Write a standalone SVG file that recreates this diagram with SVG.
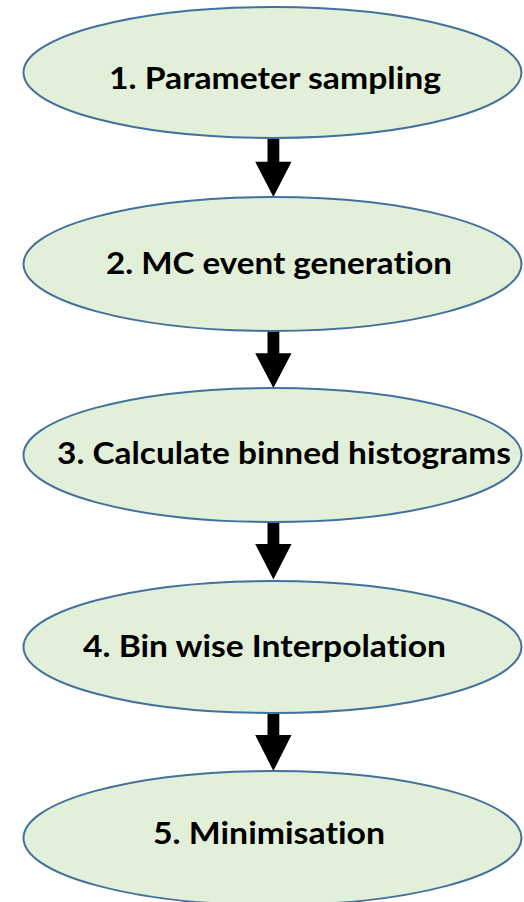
<svg xmlns="http://www.w3.org/2000/svg" width="524" height="902" viewBox="0 0 524 902">
  <style>
    .node ellipse { fill: #E2EFD9; stroke: #41719C; stroke-width: 2; }
    .node text { font-family: Lato, "Open Sans", "Liberation Sans", sans-serif; font-weight: bold; font-size: 30px; fill: #000000; font-variant-ligatures: none; font-feature-settings: "liga" 0, "dlig" 0; }
    .arrow { fill: #000000; stroke: none; }
  </style>
  <rect width="524" height="902" fill="#FFFFFF"/>
  <g id="connectors">
    <polygon class="arrow" points="267.5,139 279.3,139 279.3,161.7 291.5,161.7 273.4,197 255.2,161.7 267.5,161.7"/>
    <polygon class="arrow" points="267.5,331 279.3,331 279.3,353.3 291.5,353.3 273.4,388 255.2,353.3 267.5,353.3"/>
    <polygon class="arrow" points="267.5,522 279.3,522 279.3,544 291.5,544 273.4,579.5 255.2,544 267.5,544"/>
    <polygon class="arrow" points="267.5,713 279.3,713 279.3,735 291.5,735 273.4,771 255.2,735 267.5,735"/>
  </g>
  <g id="node1" class="node">
    <ellipse cx="272.5" cy="72.5" rx="249" ry="65.5"/>
    <text x="109" y="89" textLength="332" lengthAdjust="spacingAndGlyphs">1. Parameter sampling</text>
  </g>
  <g id="node2" class="node">
    <ellipse cx="272.5" cy="264" rx="249" ry="67"/>
    <text x="106" y="274" textLength="346" lengthAdjust="spacingAndGlyphs">2. MC event generation</text>
  </g>
  <g id="node3" class="node">
    <ellipse cx="272.5" cy="455" rx="249" ry="67"/>
    <text x="57" y="464" textLength="454" lengthAdjust="spacingAndGlyphs">3. Calculate binned histograms</text>
  </g>
  <g id="node4" class="node">
    <ellipse cx="272.5" cy="647" rx="249" ry="66"/>
    <text x="83" y="657" textLength="363" lengthAdjust="spacingAndGlyphs">4. Bin wise Interpolation</text>
  </g>
  <g id="node5" class="node">
    <ellipse cx="272.5" cy="838" rx="249" ry="67"/>
    <text x="153" y="844" textLength="232" lengthAdjust="spacingAndGlyphs">5. Minimisation</text>
  </g>
</svg>
